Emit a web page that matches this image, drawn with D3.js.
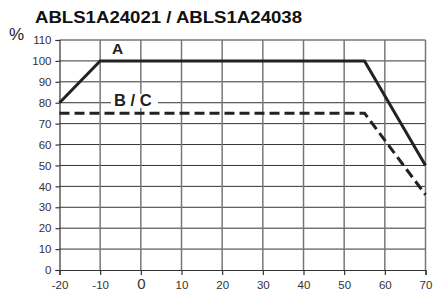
<!DOCTYPE html>
<html>
<head>
<meta charset="utf-8">
<script src="https://cdn.jsdelivr.net/npm/d3@7"></script>
<style>
  body { margin: 0; background: #fff; }
  svg { display: block; font-family: Arial, "Liberation Sans", sans-serif; }
</style>
</head>
<body>
<div class="chart"></div>
<script>
const xTicks = [-20, -10, 0, 10, 20, 30, 40, 50, 60, 70];
const yTicks = [0, 10, 20, 30, 40, 50, 60, 70, 80, 90, 100, 110];

// derating curves: temperature, percent
const curveA = [[-20, 80], [-10, 100], [55, 100], [70, 50]];
const curveBC = [[-20, 75], [55, 75], [70, 36]];

const width = 434;
const height = 295;

const svg = d3.select('.chart').append('svg')
  .attr('width', width)
  .attr('height', height);

const x = d3.scaleLinear().domain([-20, 70]).range([59.5, 425.5]);
const y = d3.scaleLinear().domain([0, 110]).range([270, 40]);

// title
svg.append('text')
  .attr('x', 35)
  .attr('y', 23)
  .attr('font-size', 16.5)
  .attr('font-weight', 'bold')
  .attr('fill', '#111')
  .attr('textLength', 267)
  .attr('lengthAdjust', 'spacingAndGlyphs')
  .text('ABLS1A24021 / ABLS1A24038');

svg.append('text')
  .attr('x', 9)
  .attr('y', 40)
  .attr('font-size', 17)
  .attr('fill', '#222')
  .text('%');

// grid
svg.selectAll('.hgrid')
  .data(yTicks.filter(d => d > 0))
  .enter()
  .append('line')
  .attr('x1', x(-20))
  .attr('x2', x(70))
  .attr('y1', d => y(d))
  .attr('y2', d => y(d))
  .attr('stroke', '#333')
  .attr('stroke-width', 1);

svg.selectAll('.vgrid')
  .data(xTicks.filter(d => d > -20))
  .enter()
  .append('line')
  .attr('x1', d => x(d))
  .attr('x2', d => x(d))
  .attr('y1', y(110))
  .attr('y2', y(0))
  .attr('stroke', '#777')
  .attr('stroke-width', 1.5);

// axes
const yAxis = svg.append('g')
  .attr('transform', `translate(${x(-20)},0)`)
  .call(d3.axisLeft(y).tickValues(yTicks).tickSize(4).tickPadding(4));

const xAxis = svg.append('g')
  .attr('transform', `translate(0,${y(0)})`)
  .call(d3.axisBottom(x).tickValues(xTicks).tickSize(5).tickPadding(6)
    .tickFormat(d => String(d)));

[yAxis, xAxis].forEach(g => {
  g.select('.domain').attr('stroke', '#333').attr('stroke-width', 1.2);
  g.selectAll('.tick line').attr('stroke', '#333').attr('stroke-width', 1.2);
  g.selectAll('text')
    .attr('fill', '#333')
    .attr('font-size', 11.5)
    .attr('font-family', 'Arial, "Liberation Sans", sans-serif');
});

xAxis.selectAll('.tick text')
  .filter(d => d === 0)
  .attr('font-size', 15)
  .attr('dy', '0.5em');

const line = d3.line()
  .x(d => x(d[0]))
  .y(d => y(d[1]));

svg.append('path')
  .datum(curveBC)
  .attr('d', line)
  .attr('fill', 'none')
  .attr('stroke', '#222')
  .attr('stroke-width', 3)
  .attr('stroke-dasharray', '10,5');

svg.append('path')
  .datum(curveA)
  .attr('d', line)
  .attr('fill', 'none')
  .attr('stroke', '#222')
  .attr('stroke-width', 3)
  .attr('stroke-linejoin', 'miter');

// curve labels
svg.append('text')
  .attr('x', 112)
  .attr('y', 54)
  .attr('font-size', 15.5)
  .attr('font-weight', 'bold')
  .attr('fill', '#222')
  .text('A');

svg.append('rect')
  .attr('x', 111)
  .attr('y', 94)
  .attr('width', 47)
  .attr('height', 14)
  .attr('fill', '#fff');

svg.append('text')
  .attr('x', 114)
  .attr('y', 106)
  .attr('font-size', 16.5)
  .attr('font-weight', 'bold')
  .attr('fill', '#222')
  .text('B / C');
</script>
</body>
</html>
